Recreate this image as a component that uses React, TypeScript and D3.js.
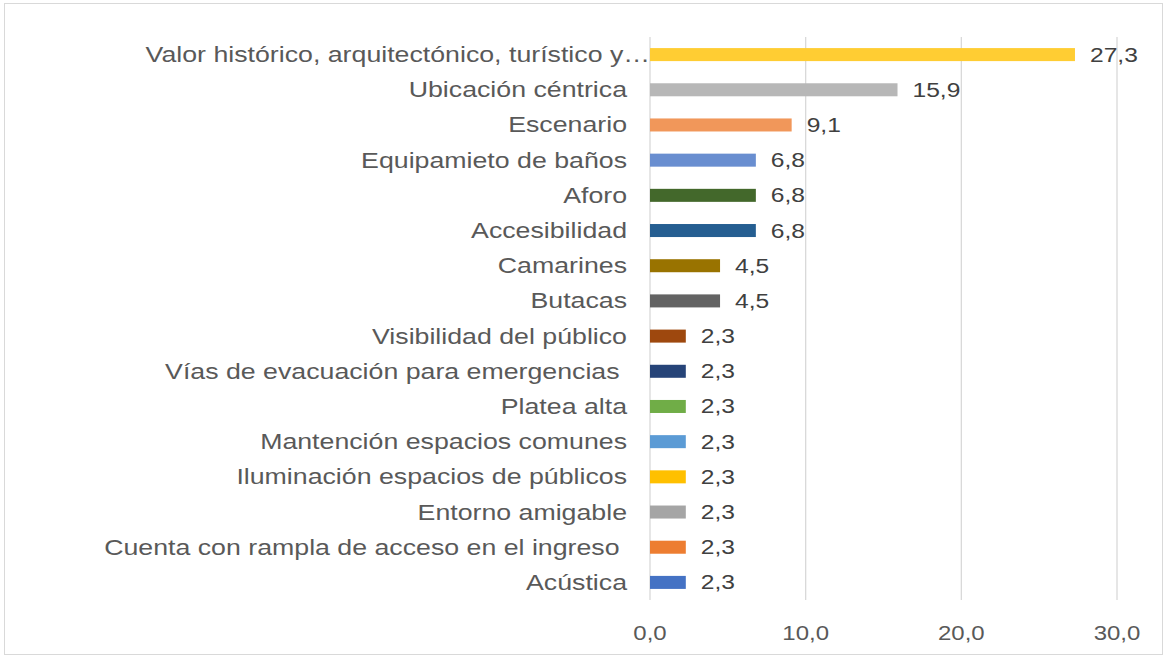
import React from "react";
import * as d3 from "d3";

const categories = [
  "Valor histórico, arquitectónico, turístico y…",
  "Ubicación céntrica",
  "Escenario",
  "Equipamieto de baños",
  "Aforo",
  "Accesibilidad",
  "Camarines",
  "Butacas",
  "Visibilidad del público",
  "Vías de evacuación para emergencias ",
  "Platea alta",
  "Mantención espacios comunes",
  "Iluminación espacios de públicos",
  "Entorno amigable",
  "Cuenta con rampla de acceso en el ingreso ",
  "Acústica",
];
const values = [27.3, 15.9, 9.1, 6.8, 6.8, 6.8, 4.5, 4.5, 2.3, 2.3, 2.3, 2.3, 2.3, 2.3, 2.3, 2.3];
const colors = [
  "#FFCD33", "#B7B7B7", "#F1975A", "#698ED0", "#43682B", "#255E91", "#997300", "#636363",
  "#9E480E", "#264478", "#70AD47", "#5B9BD5", "#FFC000", "#A5A5A5", "#ED7D31", "#4472C4",
];
const ticks = [0, 10, 20, 30];

const W = 1167, H = 659;
const left = 650, right = 1117, top = 37, bottom = 600;
const SX = 1.2;
const SXL = 1.215;

export default function App() {
  const x = d3.scaleLinear().domain([0, 30]).range([left, right]);
  const y = d3.scaleBand<string>().domain(categories).range([top, bottom]).paddingInner(0.63).paddingOuter(0.315);
  const fmt = (v: number) => v.toFixed(1).replace(".", ",");
  const font = "'Liberation Sans', Arial, sans-serif";
  return (
    <svg width={W} height={H} style={{ position: "absolute", left: 0, top: 0 }}>
      <rect x={0} y={0} width={W} height={H} fill="#fff" />
      <rect x={4.5} y={3.5} width={1158} height={651} fill="none" stroke="#d9d9d9" strokeWidth={1} />
      {ticks.map((t) => (
        <g key={t}>
          <line x1={x(t)} x2={x(t)} y1={top} y2={bottom} stroke="#d9d9d9" strokeWidth={1.3} />
          <text transform={`translate(${x(t)},640) scale(${SX},1)`} textAnchor="middle" fontFamily={font} fontSize={20} fill="#595959">
            {fmt(t)}
          </text>
        </g>
      ))}
      {categories.map((c, i) => {
        const yy = y(c)!;
        const bw = y.bandwidth();
        return (
          <g key={c}>
            <rect x={x(0)} y={yy} width={x(values[i]) - x(0)} height={bw} fill={colors[i]} />
            <text transform={`translate(${x(values[i]) + 15},${yy + bw / 2 + 7}) scale(${SX},1)`} fontFamily={font} fontSize={20.5} fill="#404040">
              {fmt(values[i])}
            </text>
            <text
              transform={`translate(${i === 0 ? 650 : 627},${yy + bw / 2 + 7.5}) scale(${SXL},1)`}
              textAnchor="end"
              fontFamily={font}
              fontSize={22}
              fill="#595959"
              style={{ whiteSpace: "pre" }}
            >
              {c}
            </text>
          </g>
        );
      })}
    </svg>
  );
}
